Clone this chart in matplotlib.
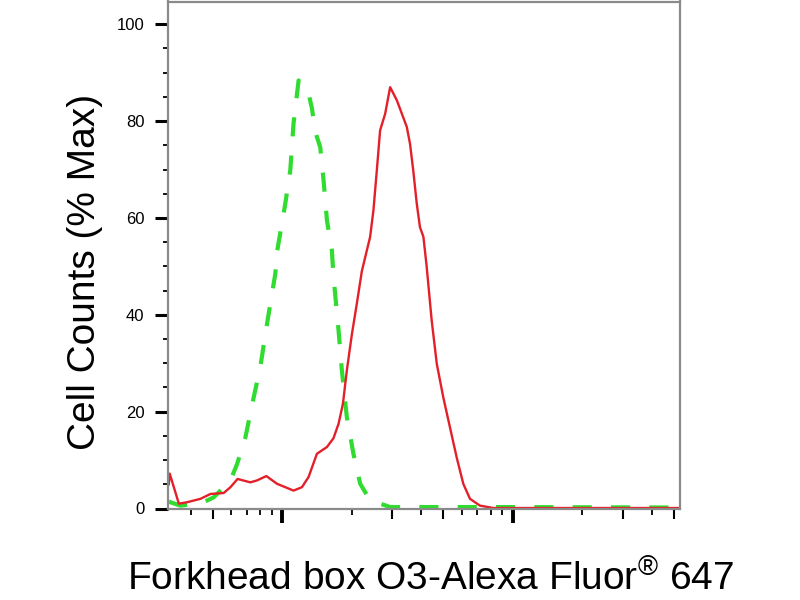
import numpy as np
import matplotlib
matplotlib.use("Agg")
from matplotlib import pyplot as plt
from matplotlib.ticker import FixedLocator, NullFormatter

plt.rcParams['font.family'] = ['Liberation Sans', 'DejaVu Sans']
plt.rcParams['mathtext.fontset'] = 'custom'
plt.rcParams['mathtext.rm'] = 'Liberation Sans'

# fluorescence intensity (log axis) and % of max
red_x = [322, 325, 356, 387, 442, 488, 557, 596, 640, 727, 777, 853, 949,
         1119, 1217, 1300, 1413, 1562, 1667, 1754, 1832, 1905, 2004, 2105,
         2213, 2404, 2485, 2570, 2656, 2793, 2936, 3139, 3467, 3581, 3698,
         3829, 3954, 4093, 4227, 4446, 4677, 4989, 5333, 5702, 6095, 6516,
         7194, 8222, 15000, 52800]
red_y = [5.0, 7.2, 1.0, 1.3, 2.0, 3.0, 3.2, 4.4, 6.1, 5.4, 5.8, 6.7, 5.1,
         3.7, 4.4, 6.5, 11.3, 12.7, 14.5, 17.5, 21.6, 28.5, 36.0, 42.3,
         49.0, 56.1, 61.6, 69.8, 78.1, 81.5, 87.0, 84.3, 78.8, 75.3, 69.8,
         63.0, 58.1, 56.1, 50.0, 38.8, 29.9, 23.0, 16.8, 10.6, 5.1, 2.0,
         0.6, 0.1, 0.1, 0.1]

green_x = [322, 327, 361, 442, 504, 596, 637, 692, 752, 803, 859, 933, 949,
           1030, 1083, 1119, 1177, 1300, 1345, 1390, 1461, 1510, 1562, 1641,
           1667, 1754, 1813, 1905, 2035, 2177, 2404, 2936, 8000, 52800]
green_y = [1.5, 1.3, 0.6, 1.0, 2.3, 5.8, 9.2, 14.7, 23.0, 29.2, 38.2, 48.5,
           53.0, 62.9, 69.8, 79.5, 88.4, 85.7, 82.6, 77.8, 74.6, 67.8, 59.5,
           53.3, 48.0, 36.8, 28.5, 18.9, 11.3, 5.1, 1.7, 0.3, 0.3, 0.2]

x_lim = (321, 52800)
y_lim = (0, 104.7)
decades = [1000, 10000]
x_mid_ticks = [500, 3000, 5000, 30000, 50000]
x_small_ticks = [400, 600, 700, 800, 900, 2000, 4000, 6000, 7000, 8000,
                 9000, 20000, 40000]

fig = plt.figure(figsize=(8, 6), dpi=100)
ax = fig.add_axes([0.2106, 0.1525, 0.6388, 0.845])

ax.plot(green_x, green_y, color='#2fdc2f', lw=3.0, dashes=(4.6, 4.6))
ax.plot(red_x, red_y, color='#e3202a', lw=1.7)

ax.set_xscale('log')
ax.set_xlim(*x_lim)
ax.set_ylim(*y_lim)

ax.xaxis.set_major_locator(FixedLocator(decades))
ax.xaxis.set_minor_locator(FixedLocator(x_small_ticks))
ax.xaxis.set_major_formatter(NullFormatter())
ax.xaxis.set_minor_formatter(NullFormatter())
ax.tick_params(axis='x', which='major', length=10, width=2.8, color='black')
ax.tick_params(axis='x', which='minor', length=4.3, width=1.3, color='black')

sec = ax.secondary_xaxis('bottom')
sec.set_xticks(x_mid_ticks)
sec.xaxis.set_minor_locator(FixedLocator([]))
sec.set_xticklabels([])
sec.tick_params(axis='x', length=7, width=1.5, color='black')
sec.spines['bottom'].set_visible(False)

ax.set_yticks([0, 20, 40, 60, 80, 100])
ax.yaxis.set_minor_locator(FixedLocator(np.arange(5, 105, 5)))
ax.tick_params(axis='y', which='major', length=9.4, width=2.2, pad=8,
               labelsize=12, color='black')
ax.tick_params(axis='y', which='minor', length=3.6, width=1.3, color='black')

for s in ax.spines.values():
    s.set_color('#8a8a8a')
    s.set_linewidth(1.6)

fig.text(85 / 800, 1 - 272 / 600, 'Cell Counts (% Max)', rotation=90,
         fontsize=28, ha='center', va='center')
fig.text(431 / 800, 9 / 600, r'Forkhead box O3-Alexa Fluor$^{\mathrm{®}}$ 647',
         fontsize=28, ha='center', va='baseline')

fig.savefig('out.png', dpi=100)
